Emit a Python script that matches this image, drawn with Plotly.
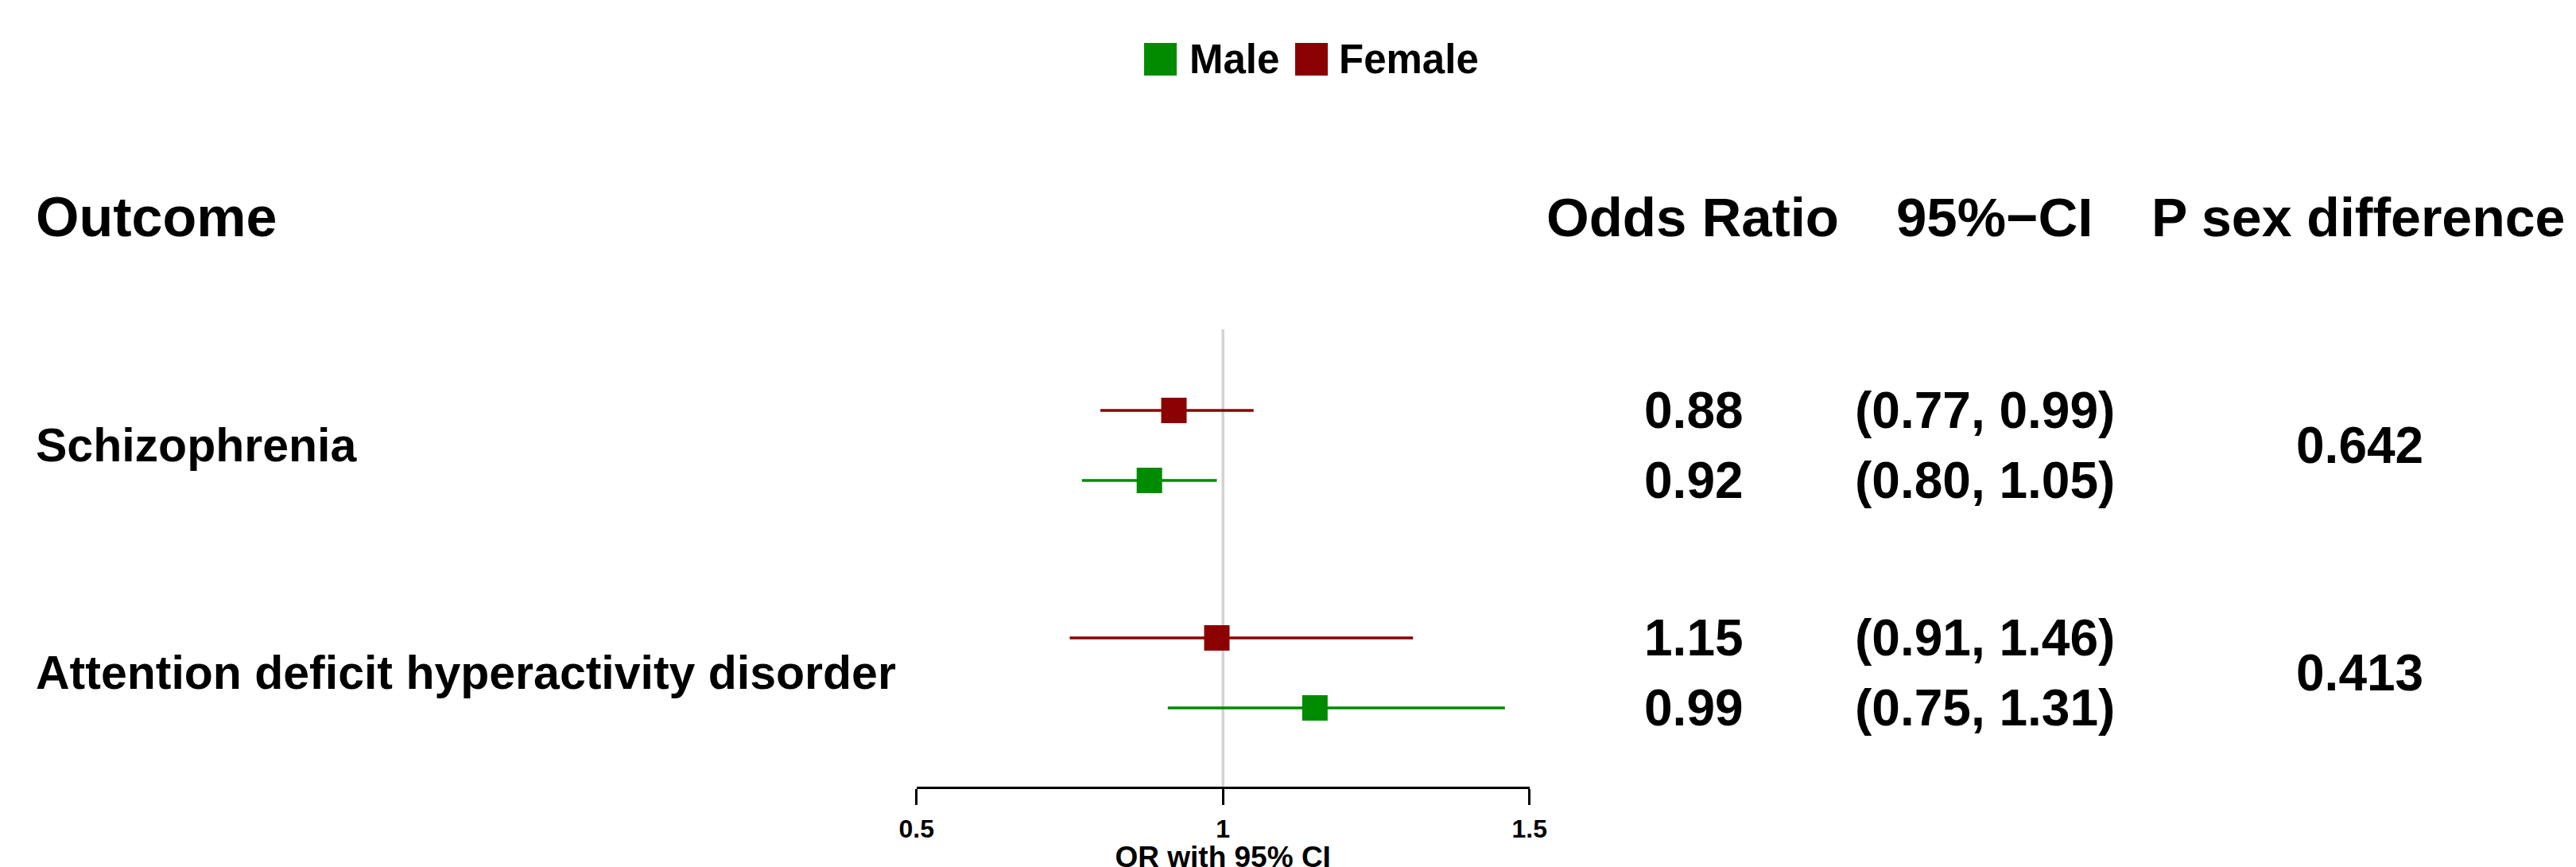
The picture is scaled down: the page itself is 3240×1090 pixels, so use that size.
import plotly.graph_objects as go

# ---------------- data ----------------
outcomes = ["Schizophrenia", "Attention deficit hyperactivity disorder"]
male_or = [0.88, 1.15]
male_lo = [0.77, 0.91]
male_hi = [0.99, 1.46]
female_or = [0.92, 0.99]
female_lo = [0.80, 0.75]
female_hi = [1.05, 1.31]
p_sex_diff = ["0.642", "0.413"]
x_ticks = [0.5, 1, 1.5]
x_tick_labels = ["0.5", "1", "1.5"]
headers = ["Outcome", "Odds Ratio", "95%\u2212CI", "P sex difference"]

# ---------------- styling / layout ----------------
W, H = 3240, 1090
GREEN = "#008B00"
RED = "#8B0000"
FONT = "Liberation Sans, Arial, Helvetica, sans-serif"
ROW_PX = 88.0      # pixel height of one row unit
Y0_PX = 508.0      # pixel position of row 0
group_base = [0.0, 3.25]

def px_x(px):
    return px / W

def px_y(px):
    return 1 - px / H

AXIS_PX = 982
x_domain = [px_x(1144.7), px_x(1915.7)]
y_range = [(H - Y0_PX) / ROW_PX, -Y0_PX / ROW_PX]

fig = go.Figure()

series = [
    ("Female", RED, female_or, female_lo, female_hi, 0),
    ("Male", GREEN, male_or, male_lo, male_hi, 1),
]
for name, col, est, lo, hi, off in series:
    ys = [b + off for b in group_base]
    fig.add_trace(go.Scatter(
        x=est, y=ys, mode="markers", name=name, showlegend=False,
        marker=dict(symbol="square", size=32, color=col, line=dict(width=0)),
        error_x=dict(type="data", symmetric=False,
                     array=[h - e for h, e in zip(hi, est)],
                     arrayminus=[e - l for e, l in zip(est, lo)],
                     color=col, thickness=3.4, width=0),
        hoverinfo="skip",
    ))

annotations = []

def txt(text, x, y, size, xanchor="center", xref="paper", yref="y"):
    annotations.append(dict(
        text=text, x=x, y=y, xref=xref, yref=yref, xanchor=xanchor,
        yanchor="middle", showarrow=False,
        font=dict(family=FONT, size=size, color="black", weight="bold"),
    ))

# column headers
HEADER_Y = -2.76
txt(headers[0], px_x(35), HEADER_Y, 70, xanchor="left")
txt(headers[1], px_x(2121), HEADER_Y, 69)
txt(headers[2], px_x(2500), HEADER_Y, 69)
txt(headers[3], px_x(2958), HEADER_Y, 68)

# rows
for i, outcome in enumerate(outcomes):
    b = group_base[i]
    txt(outcome, px_x(35), b + 0.5, 59, xanchor="left")
    # text table: male values first row, female second
    txt(f"{male_or[i]:.2f}", px_x(2122), b, 64)
    txt(f"({male_lo[i]:.2f}, {male_hi[i]:.2f})", px_x(2488), b, 64)
    txt(f"{female_or[i]:.2f}", px_x(2122), b + 1, 64)
    txt(f"({female_lo[i]:.2f}, {female_hi[i]:.2f})", px_x(2488), b + 1, 64)
    txt(p_sex_diff[i], px_x(2960), b + 0.5, 64)

# legend (manual, large swatches)
shapes = []
LEG_TOP, LEG_BOT = 46, 87
leg_items = [("Male", GREEN, 1431, 1486), ("Female", RED, 1621, 1674)]
for name, col, sx, tx in leg_items:
    shapes.append(dict(type="rect", xref="paper", yref="paper",
                       x0=px_x(sx), x1=px_x(sx + 41), y0=px_y(LEG_BOT), y1=px_y(LEG_TOP),
                       fillcolor=col, line=dict(width=0)))
    annotations.append(dict(
        text=name, x=px_x(tx), y=px_y((LEG_TOP + LEG_BOT) / 2), xref="paper", yref="paper",
        xanchor="left", yanchor="middle", showarrow=False,
        font=dict(family=FONT, size=51, color="black", weight="bold")))

# reference line at OR = 1
shapes.append(dict(type="line", xref="x", yref="paper", x0=1, x1=1,
                   y0=px_y(AXIS_PX), y1=px_y(406),
                   line=dict(color="#d3d3d3", width=3.5), layer="below"))

fig.update_layout(
    width=W, height=H, margin=dict(l=0, r=0, t=0, b=0),
    paper_bgcolor="white", plot_bgcolor="white",
    showlegend=False,
    annotations=annotations, shapes=shapes,
    xaxis=dict(
        domain=x_domain, range=[0.5, 1.5], anchor="free", position=px_y(AXIS_PX),
        showgrid=False, zeroline=False, showline=True, linecolor="black", linewidth=3,
        ticks="outside", ticklen=20, tickwidth=3, tickcolor="black",
        tickvals=x_ticks, ticktext=x_tick_labels,
        tickfont=dict(family=FONT, size=32, color="black", weight="bold"),
        ticklabelstandoff=3,
        title=dict(text="OR with 95% CI", standoff=40,
                   font=dict(family=FONT, size=37, color="black", weight="bold")),
        automargin=False, fixedrange=True,
    ),
    yaxis=dict(range=y_range, domain=[0, 1], visible=False, showgrid=False,
               zeroline=False, fixedrange=True),
)

fig.write_html("out.html")
